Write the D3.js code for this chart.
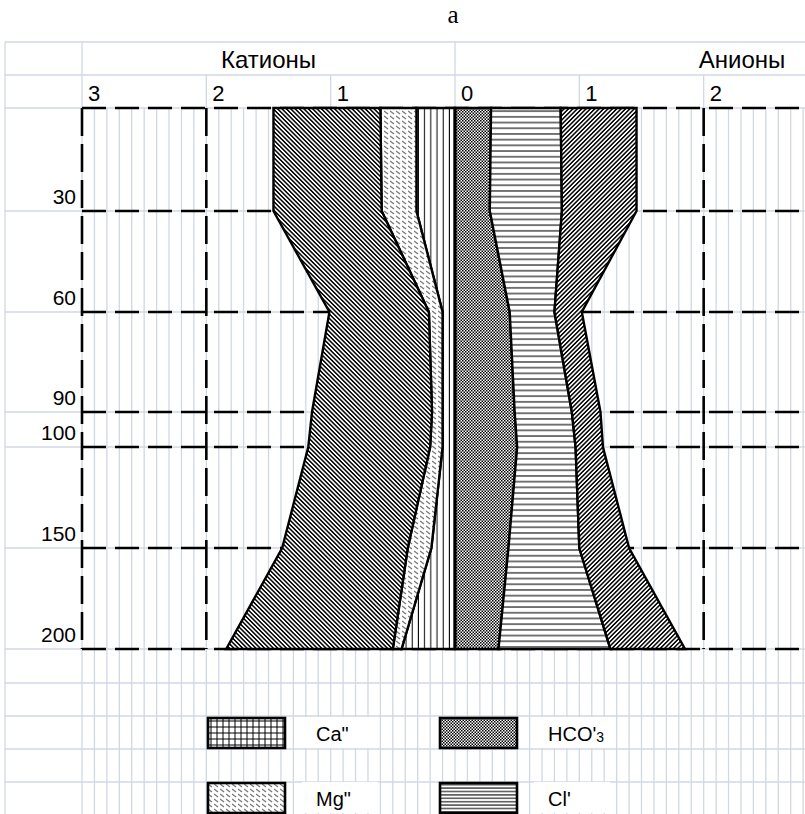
<!DOCTYPE html>
<html>
<head>
<meta charset="utf-8">
<script src="https://cdn.jsdelivr.net/npm/d3@7"></script>
<style>
  body { margin: 0; background: #fff; }
  text { font-family: "Liberation Sans", Arial, sans-serif; fill: #000; }
</style>
</head>
<body>
<script>
// глубины (см)
const depths = [0, 30, 60, 90, 100, 150, 200];
const depthLabels = [30, 60, 90, 100, 150, 200];

// катионы, мг-экв
const ca = [0.31, 0.31, 0.10, 0.10, 0.10, 0.19, 0.43];
const mg = [0.29, 0.28, 0.11, 0.085, 0.10, 0.19, 0.07];
const naK = [0.86, 0.87, 0.80, 0.965, 0.98, 1.01, 1.34];

// анионы, мг-экв
const hco3 = [0.29, 0.28, 0.44, 0.48, 0.50, 0.43, 0.35];
const cl = [0.56, 0.58, 0.36, 0.46, 0.47, 0.57, 0.90];
const so4 = [0.61, 0.60, 0.22, 0.23, 0.22, 0.40, 0.60];

const cationTicks = [3, 2, 1];
const anionTicks = [0, 1, 2];

const svgWidth = 805;
const svgHeight = 814;
const svg = d3.select('body')
  .append('svg')
  .attr('width', svgWidth)
  .attr('height', svgHeight);

const gridColor = '#d0d7e5';

// scale設定
const xCat = d3.scaleLinear().domain([0, 3]).range([455, 82]);
const xAn = d3.scaleLinear().domain([0, 3]).range([455, 828]);
const y = d3.scaleLinear().domain(depths).range([108, 211, 312, 412, 447, 548, 649]);

const tableTop = 42;
const rowH = 33;
const plotTop = y(0);
const plotBottom = y(200);

// パターン
const defs = svg.append('defs');

function hatch(id, angle, gap, width) {
  const p = defs.append('pattern')
    .attr('id', id)
    .attr('patternUnits', 'userSpaceOnUse')
    .attr('width', gap)
    .attr('height', 10)
    .attr('patternTransform', `rotate(${angle})`);
  p.append('rect').attr('width', gap).attr('height', 10).attr('fill', '#fff');
  p.append('line')
    .attr('x1', gap / 2).attr('x2', gap / 2)
    .attr('y1', 0).attr('y2', 10)
    .attr('stroke', '#000').attr('stroke-width', width);
}
hatch('nak', -45, 3.1, 1.5);
hatch('so4', 45, 3.1, 1.5);

// Ca: вертикальные линии
const caP = defs.append('pattern').attr('id', 'ca')
  .attr('patternUnits', 'userSpaceOnUse').attr('width', 6.2).attr('height', 10);
caP.append('rect').attr('width', 6.2).attr('height', 10).attr('fill', '#fff');
caP.append('line').attr('x1', 3).attr('x2', 3).attr('y1', 0).attr('y2', 10)
  .attr('stroke', '#000').attr('stroke-width', 1);

const caL = defs.append('pattern').attr('id', 'caLegend')
  .attr('patternUnits', 'userSpaceOnUse').attr('width', 6).attr('height', 6);
caL.append('rect').attr('width', 6).attr('height', 6).attr('fill', '#fff');
caL.append('path').attr('d', 'M3,0V6M0,3H6').attr('stroke', '#000').attr('stroke-width', 1);

// Mg: серые штрихи
const mgP = defs.append('pattern').attr('id', 'mg')
  .attr('patternUnits', 'userSpaceOnUse').attr('width', 6).attr('height', 5);
mgP.append('rect').attr('width', 6).attr('height', 5).attr('fill', '#fff');
mgP.append('path').attr('d', 'M0,1L4,4').attr('stroke', '#777').attr('stroke-width', 1.3);

// HCO3: шахматка
const hP = defs.append('pattern').attr('id', 'hco3')
  .attr('patternUnits', 'userSpaceOnUse').attr('width', 3).attr('height', 3);
hP.append('rect').attr('width', 3).attr('height', 3).attr('fill', '#fff');
hP.append('rect').attr('width', 1.5).attr('height', 1.5).attr('fill', '#000');
hP.append('rect').attr('x', 1.5).attr('y', 1.5).attr('width', 1.5).attr('height', 1.5).attr('fill', '#000');

// Cl: горизонтальные линии
function hLines(id, gap, color, width) {
  const p = defs.append('pattern').attr('id', id)
    .attr('patternUnits', 'userSpaceOnUse').attr('width', 10).attr('height', gap);
  p.append('rect').attr('width', 10).attr('height', gap).attr('fill', '#fff');
  p.append('line').attr('x1', 0).attr('x2', 10).attr('y1', gap / 2).attr('y2', gap / 2)
    .attr('stroke', color).attr('stroke-width', width);
}
hLines('cl', 5.7, '#555', 1.6);
hLines('clLegend', 3.4, '#222', 1.2);

// сетка таблицы
const grid = svg.append('g').attr('stroke', gridColor).attr('stroke-width', 1.3);
const minor = d3.range(0, 31).map(i => xCat(i / 10))
  .concat(d3.range(1, 29).map(i => xAn(i / 10)));
grid.selectAll('.vminor')
  .data(minor)
  .enter().append('line')
  .attr('x1', d => d).attr('x2', d => d)
  .attr('y1', plotTop).attr('y2', svgHeight);

// header verticals
grid.append('line').attr('x1', 5).attr('x2', 5).attr('y1', tableTop).attr('y2', svgHeight);
[xCat(3), xCat(0)].forEach(x => grid.append('line')
  .attr('x1', x).attr('x2', x).attr('y1', tableTop).attr('y2', plotTop));
[xCat(2), xCat(1), xAn(1), xAn(2)].forEach(x => grid.append('line')
  .attr('x1', x).attr('x2', x).attr('y1', tableTop + rowH).attr('y2', plotTop));

// horizontal grid lines
const hRows = [tableTop, tableTop + rowH, plotTop].concat(depthLabels.map(y));
hRows.forEach(v => grid.append('line')
  .attr('x1', 5).attr('x2', svgWidth).attr('y1', v).attr('y2', v));
const belowRows = [683, 716, 749, 782];
belowRows.forEach(v => grid.append('line')
  .attr('x1', 5).attr('x2', svgWidth).attr('y1', v).attr('y2', v));

// 破線 (dashed guides)
const guides = svg.append('g')
  .attr('stroke', '#000')
  .attr('stroke-width', 2.6)
  .attr('fill', 'none');
guides.selectAll('.hdash')
  .data(depths)
  .enter().append('line')
  .attr('x1', xCat(3)).attr('x2', svgWidth)
  .attr('y1', d => y(d)).attr('y2', d => y(d))
  .attr('stroke-dasharray', '24,9');
guides.selectAll('.vdash')
  .data([xCat(3), xCat(2), xCat(1), xAn(1), xAn(2)])
  .enter().append('line')
  .attr('x1', d => d).attr('x2', d => d)
  .attr('y1', plotTop).attr('y2', plotBottom)
  .attr('stroke-dasharray', '28,8');

// データ
const rows = depths.map((d, i) => ({
  depth: d, ca: ca[i], mg: mg[i], naK: naK[i],
  hco3: hco3[i], cl: cl[i], so4: so4[i]
}));

const catStack = d3.stack().keys(['ca', 'mg', 'naK'])(rows);
const anStack = d3.stack().keys(['hco3', 'cl', 'so4'])(rows);

const catArea = d3.area()
  .y(d => y(d.data.depth))
  .x0(d => xCat(d[0]))
  .x1(d => xCat(d[1]));
const anArea = d3.area()
  .y(d => y(d.data.depth))
  .x0(d => xAn(d[0]))
  .x1(d => xAn(d[1]));

const fills = { ca: 'url(#ca)', mg: 'url(#mg)', naK: 'url(#nak)',
  hco3: 'url(#hco3)', cl: 'url(#cl)', so4: 'url(#so4)' };

const plot = svg.append('g');
plot.selectAll('.cat')
  .data(catStack)
  .enter().append('path')
  .attr('d', catArea)
  .attr('fill', d => fills[d.key])
  .attr('stroke', '#000')
  .attr('stroke-width', 2.4)
  .attr('stroke-linejoin', 'miter');
plot.selectAll('.an')
  .data(anStack)
  .enter().append('path')
  .attr('d', anArea)
  .attr('fill', d => fills[d.key])
  .attr('stroke', '#000')
  .attr('stroke-width', 2.4)
  .attr('stroke-linejoin', 'miter');
// ось 0
plot.append('line')
  .attr('x1', xCat(0)).attr('x2', xCat(0))
  .attr('y1', plotTop).attr('y2', plotBottom)
  .attr('stroke', '#000').attr('stroke-width', 3);

// テキスト
svg.append('text')
  .attr('x', 453).attr('y', 23)
  .attr('text-anchor', 'middle')
  .style('font-family', '"Liberation Serif", "Times New Roman", serif')
  .style('font-size', '25px')
  .text('а');

svg.append('text')
  .attr('x', (xCat(3) + xCat(0)) / 2).attr('y', tableTop + 26)
  .attr('text-anchor', 'middle')
  .style('font-size', '24px')
  .text('Катионы');
svg.append('text')
  .attr('x', 742).attr('y', tableTop + 26)
  .attr('text-anchor', 'middle')
  .style('font-size', '24px')
  .text('Анионы');

svg.selectAll('.ctick')
  .data(cationTicks)
  .enter().append('text')
  .attr('x', d => xCat(d) + 6).attr('y', tableTop + rowH + 26)
  .style('font-size', '22px')
  .text(d => d);
svg.selectAll('.atick')
  .data(anionTicks)
  .enter().append('text')
  .attr('x', d => xAn(d) + 6).attr('y', tableTop + rowH + 26)
  .style('font-size', '22px')
  .text(d => d);

svg.selectAll('.dlabel')
  .data(depthLabels)
  .enter().append('text')
  .attr('x', 76).attr('y', d => y(d) - 7)
  .attr('text-anchor', 'end')
  .style('font-size', '21px')
  .text(d => d);

// легенда
const legendItems = [
  { label: 'Ca"', fill: 'url(#caLegend)', col: 0, row: 0 },
  { label: 'Mg"', fill: 'url(#mg)', col: 0, row: 1 },
  { label: 'HCO\'', sub: '3', fill: 'url(#hco3)', col: 1, row: 0 },
  { label: 'Cl\'', fill: 'url(#clLegend)', col: 1, row: 1 }
];
const legend = svg.append('g');
const item = legend.selectAll('g')
  .data(legendItems)
  .enter().append('g')
  .attr('transform', d => `translate(${208 + d.col * 232},${718 + d.row * 65})`);
item.append('rect')
  .attr('x', 94).attr('y', -1)
  .attr('width', 76).attr('height', 31)
  .attr('fill', '#fff');
item.append('rect')
  .attr('width', 77).attr('height', 30)
  .attr('fill', d => d.fill)
  .attr('stroke', '#000')
  .attr('stroke-width', 2.6);
const lt = item.append('text')
  .attr('x', 108).attr('y', 23)
  .style('font-size', '20px')
  .text(d => d.label);
lt.filter(d => d.sub)
  .append('tspan')
  .attr('dy', 1)
  .style('font-size', '14px')
  .text(d => d.sub);
</script>
</body>
</html>
